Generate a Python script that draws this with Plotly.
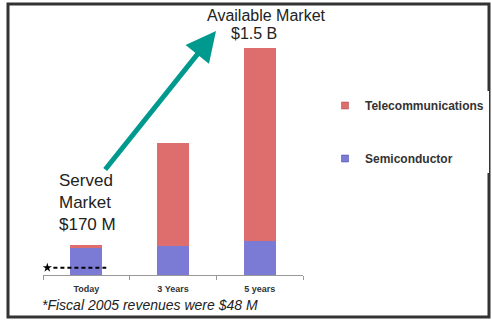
import plotly.graph_objects as go

categories = ["Today", "3 Years", "5 years"]
semiconductor = [178, 192, 225]
telecommunications = [20, 680, 1275]
fiscal_2005_revenue = 48

RED = "#de6e6e"
BLUE = "#7b7bd6"

W, H = 492, 320
L, R, T, B = 43, 189, 20, 45
pw, ph = W - L - R, H - T - B

def px(x):
    return (x - L) / pw

def py(y):
    return (H - B - y) / ph

fig = go.Figure()
fig.add_trace(go.Bar(x=categories, y=semiconductor, name="Semiconductor",
                     marker=dict(color=BLUE, line=dict(width=0)), width=0.37,
                     showlegend=False))
fig.add_trace(go.Bar(x=categories, y=telecommunications, name="Telecommunications",
                     marker=dict(color=RED, line=dict(width=0)), width=0.37,
                     showlegend=False))
# legend entries (small square keys)
fig.add_trace(go.Scatter(x=[None], y=[None], mode="markers", name="Telecommunications",
                         marker=dict(symbol="square", size=7, color=RED,
                                     line=dict(color="#a04040", width=0.5)),
                         legendgroup="t", legendrank=1))
fig.add_trace(go.Scatter(x=[None], y=[None], mode="markers", name="Semiconductor",
                         marker=dict(symbol="square", size=7, color=BLUE,
                                     line=dict(color="#4040a0", width=0.5)),
                         legendgroup="s", legendrank=2))
# fiscal 2005 revenue dashed marker line
fig.add_trace(go.Scatter(x=[-0.38, 0.23], y=[fiscal_2005_revenue] * 2, xaxis="x2",
                         mode="lines", line=dict(color="black", width=2, dash="4px,3px"),
                         showlegend=False, hoverinfo="skip"))
fig.add_trace(go.Scatter(x=[-0.45], y=[fiscal_2005_revenue], xaxis="x2",
                         mode="markers", marker=dict(symbol="star", size=7, color="black"),
                         showlegend=False, hoverinfo="skip"))

fig.update_layout(
    width=W, height=H,
    margin=dict(l=L, r=R, t=T, b=B, autoexpand=False),
    paper_bgcolor="white", plot_bgcolor="white",
    barmode="stack",
    font=dict(family="Arial, Liberation Sans, sans-serif", color="#222"),
    xaxis=dict(type="category", tickson="boundaries", ticks="outside", ticklen=4,
               tickcolor="#999", showline=True, linecolor="#999", linewidth=1,
               showgrid=False, range=[-0.5, 2.5], ticklabelstandoff=5,
               tickfont=dict(size=9, color="#333", family="Liberation Sans", weight="bold")),
    xaxis2=dict(overlaying="x", range=[-0.5, 2.5], visible=False),
    yaxis=dict(range=[0, 1685], visible=False, showgrid=False),
    legend=dict(x=px(325), y=py(91), xanchor="left", yanchor="top",
                traceorder="grouped", tracegroupgap=34, itemwidth=30,
                font=dict(size=12, color="#333", family="Liberation Sans", weight="bold")),
    showlegend=True,
)

fig.add_annotation(xref="paper", yref="paper", x=px(216), y=py(31), ax=-112, ay=140,
                   showarrow=True, arrowhead=2, arrowsize=1.2, arrowwidth=5,
                   arrowcolor="#00998e", text="")
fig.add_annotation(xref="paper", yref="paper", x=px(266), y=py(15), text="Available Market",
                   showarrow=False, font=dict(size=16, color="#222"), xanchor="center", yanchor="middle")
fig.add_annotation(xref="paper", yref="paper", x=px(254), y=py(33), text="$1.5 B",
                   showarrow=False, font=dict(size=16, color="#222"), xanchor="center", yanchor="middle")
fig.add_annotation(xref="paper", yref="paper", x=px(57), y=py(202), text="Served<br>Market<br>$170 M",
                   showarrow=False, align="left", font=dict(size=17, color="#222"),
                   xanchor="left", yanchor="middle")
fig.add_annotation(xref="paper", yref="paper", x=px(40), y=py(305),
                   text="<i>*Fiscal 2005 revenues were $48 M</i>",
                   showarrow=False, font=dict(size=14, color="#222"), xanchor="left", yanchor="middle")

fig.add_shape(type="rect", xref="paper", yref="paper",
              x0=px(8), x1=px(489), y0=py(317), y1=py(4),
              line=dict(color="#333", width=3), fillcolor="rgba(0,0,0,0)", layer="above")

fig.write_html("out.html")
